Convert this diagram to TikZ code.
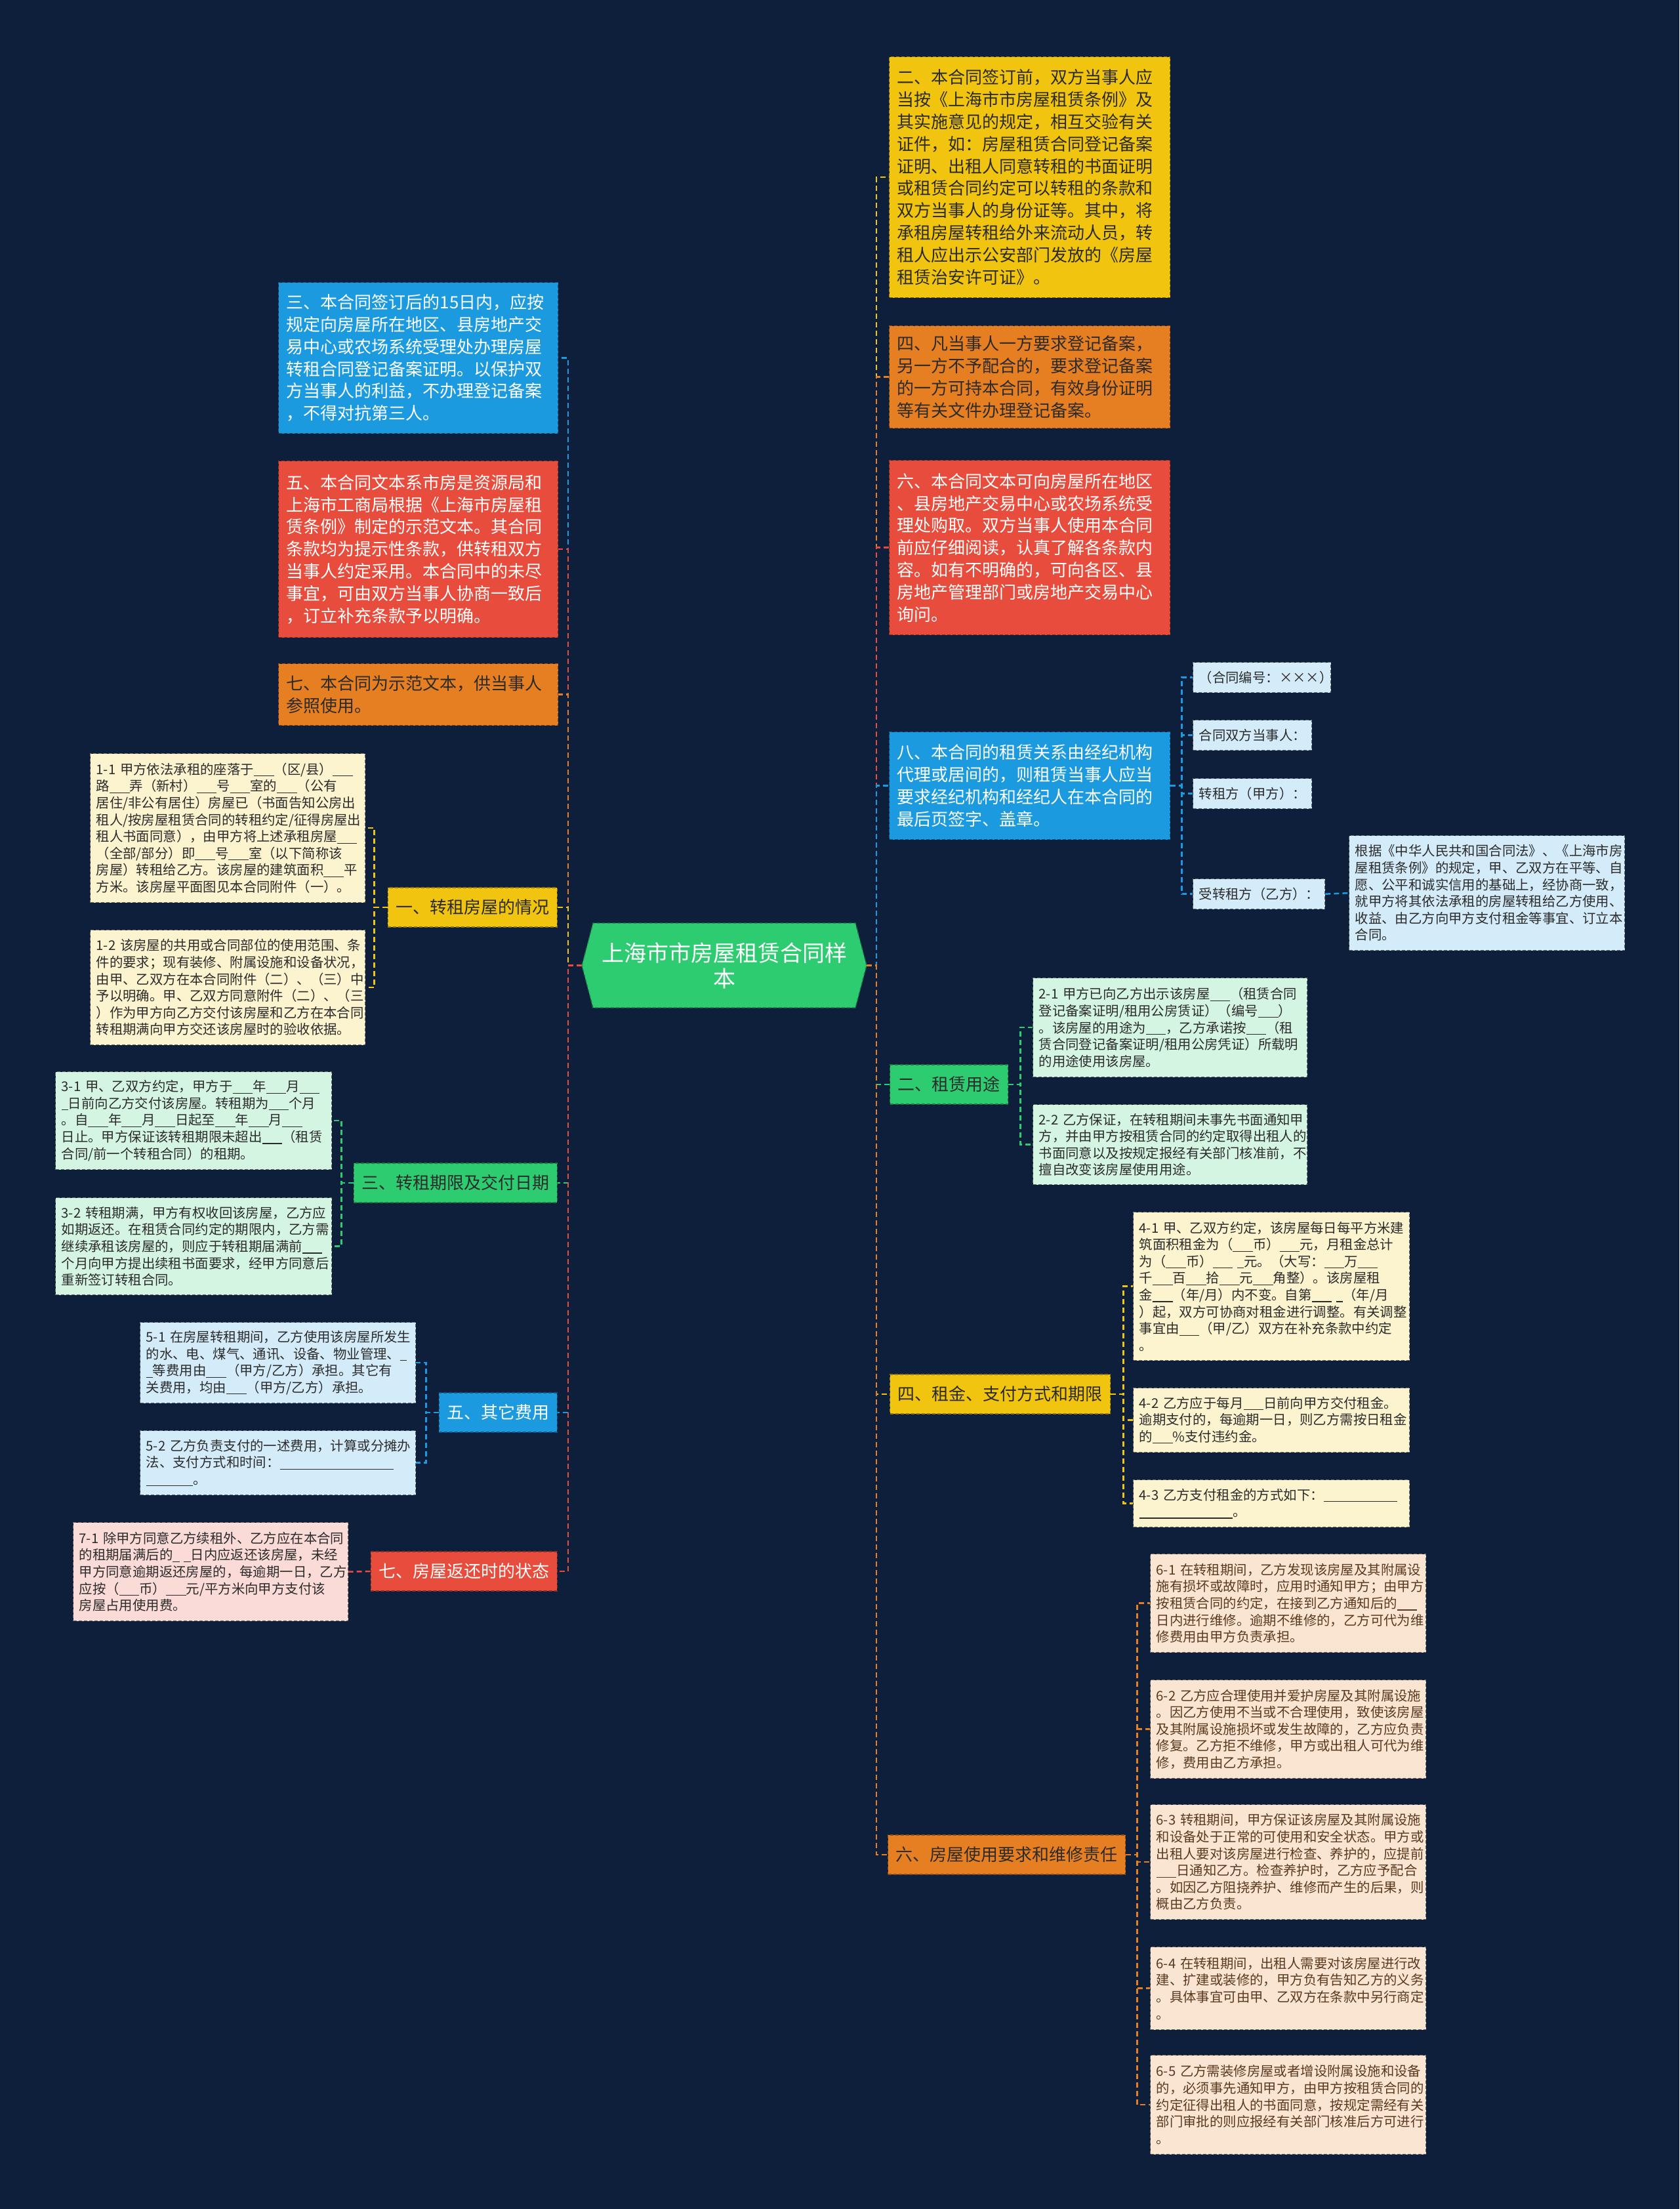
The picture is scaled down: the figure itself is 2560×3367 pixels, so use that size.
\documentclass[tikz,border=0pt]{standalone}
\usepackage{fontspec}
\setmainfont{Noto Sans CJK SC}
\definecolor{bg}{HTML}{0D1F3B}
\definecolor{cblue}{HTML}{1B9AE0}
\definecolor{cred}{HTML}{E74C3C}
\definecolor{corange}{HTML}{E67E22}
\definecolor{cyellow}{HTML}{F1C40F}
\definecolor{cgreen}{HTML}{2ECC71}
\definecolor{lcream}{HTML}{FCF3CF}
\definecolor{lgreen}{HTML}{D5F5E3}
\definecolor{lblue}{HTML}{D4ECF9}
\definecolor{lpink}{HTML}{FADBD8}
\definecolor{lpeach}{HTML}{FAE5D3}
\definecolor{tdark}{HTML}{2B2B2B}
\definecolor{tbrown}{HTML}{5A3A1E}
\newcommand{\blnk}{\rule[-0.15em]{1.5em}{0.06em}}
\newcommand{\sblnk}{\rule[-0.15em]{0.5em}{0.06em}}
\newcommand{\fbig}{\fontsize{26}{33.8}\selectfont}
\newcommand{\fsml}{\fontsize{20.4}{25.6}\selectfont}
\newcommand{\fctr}{\fontsize{34}{39}\selectfont}
\begin{document}
\begin{tikzpicture}[x=1pt,y=-1pt,
  bx/.style={anchor=north west, dash pattern=on 5pt off 3pt, line width=1.3pt, align=left, inner ysep=0pt},
  bigbox/.style={bx, font=\fbig, inner xsep=12pt},
  smbox/.style={bx, font=\fsml, inner xsep=9pt},
  lbl/.style={dash pattern=on 5pt off 3pt, line width=1.3pt, font=\fbig, inner xsep=12pt, inner ysep=0pt, minimum height=60pt},
  conn/.style={dash pattern=on 8pt off 5pt, line width=2.5pt},
  fB/.style={fill=cblue, draw=cblue!60!black},
  fR/.style={fill=cred, draw=cred!60!black},
  fO/.style={fill=corange, draw=corange!60!black},
  fY/.style={fill=cyellow, draw=cyellow!60!black},
  fG/.style={fill=cgreen, draw=cgreen!60!black},
  fLC/.style={fill=lcream, draw=lcream!45!black, text=tdark},
  fLG/.style={fill=lgreen, draw=lgreen!45!black, text=tdark},
  fLB/.style={fill=lblue, draw=lblue!45!black, text=tdark},
  fLP/.style={fill=lpink, draw=lpink!45!black, text=tdark},
  fLE/.style={fill=lpeach, draw=lpeach!45!black, text=tbrown}
]
\fill[bg] (0,0) rectangle (2560,3367);
\useasboundingbox (0,0) rectangle (2560,3367);

% centre
\fill[cgreen] (887,1471.5) -- (904,1407) -- (1304,1407) -- (1321,1471.5) -- (1304,1536) -- (904,1536) -- cycle;
\draw[cgreen!60!black, dash pattern=on 5pt off 3pt, line width=1.3pt] (887,1471.5) -- (904,1407) -- (1304,1407) -- (1321,1471.5) -- (1304,1536) -- (904,1536) -- cycle;
\node[font=\fctr, text=white, align=center, minimum width=434pt, minimum height=129pt, inner sep=0pt] (c) at (1104,1471.5) {上海市市房屋租赁合同样\\本};

% ---------- left big boxes
\node[bigbox, fB, text=white, text width=402pt, minimum height=230pt] (n3) at (424,430) {三、本合同签订后的15日内，应按\\规定向房屋所在地区、县房地产交\\易中心或农场系统受理处办理房屋\\转租合同登记备案证明。以保护双\\方当事人的利益，不办理登记备案\\，不得对抗第三人。};
\node[bigbox, fR, text=white, text width=402pt, minimum height=269pt] (n5) at (424,702) {五、本合同文本系市房是资源局和\\上海市工商局根据《上海市房屋租\\赁条例》制定的示范文本。其合同\\条款均为提示性条款，供转租双方\\当事人约定采用。本合同中的未尽\\事宜，可由双方当事人协商一致后\\，订立补充条款予以明确。};
\node[bigbox, fO, text=tdark, text width=402pt, minimum height=94pt] (n7) at (424,1011) {七、本合同为示范文本，供当事人\\参照使用。};

% ---------- left labels
\node[lbl, fY, text=tdark, anchor=east] (l1) at (850,1383) {一、转租房屋的情况};
\node[lbl, fG, text=tdark, anchor=east] (l3) at (850,1803) {三、转租期限及交付日期};
\node[lbl, fB, text=white, anchor=east] (l5) at (850,2153) {五、其它费用};
\node[lbl, fR, text=white, anchor=east] (l7) at (850,2395) {七、房屋返还时的状态};

% ---------- left small boxes
\node[smbox, fLC, text width=401pt, minimum height=227pt] (a11) at (137,1148) {1-1 甲方依法承租的座落于\blnk{}（区/县）\blnk{}\\路\blnk{}弄（新村）\blnk{}号\blnk{}室的\blnk{}（公有\\居住/非公有居住）房屋已（书面告知公房出\\租人/按房屋租赁合同的转租约定/征得房屋出\\租人书面同意），由甲方将上述承租房屋\blnk{}\\（全部/部分）即\blnk{}号\blnk{}室（以下简称该\\房屋）转租给乙方。该房屋的建筑面积\blnk{}平\\方米。该房屋平面图见本合同附件（一）。};
\node[smbox, fLC, text width=401pt, minimum height=175pt] (a12) at (137,1417) {1-2 该房屋的共用或合同部位的使用范围、条\\件的要求；现有装修、附属设施和设备状况，\\由甲、乙双方在本合同附件（二）、（三）中\\予以明确。甲、乙双方同意附件（二）、（三\\）作为甲方向乙方交付该房屋和乙方在本合同\\转租期满向甲方交还该房屋时的验收依据。};
\node[smbox, fLG, text width=403pt, minimum height=149pt] (a31) at (84,1633) {3-1 甲、乙双方约定，甲方于\blnk{}年\blnk{}月\blnk{}\\\sblnk{}日前向乙方交付该房屋。转租期为\blnk{}个月\\。自\blnk{}年\blnk{}月\blnk{}日起至\blnk{}年\blnk{}月\blnk{}\\日止。甲方保证该转租期限未超出\blnk{}（租赁\\合同/前一个转租合同）的租期。};
\node[smbox, fLG, text width=403pt, minimum height=148pt] (a32) at (84,1825) {3-2 转租期满，甲方有权收回该房屋，乙方应\\如期返还。在租赁合同约定的期限内，乙方需\\继续承租该房屋的，则应于转租期届满前\blnk{}\\个月向甲方提出续租书面要求，经甲方同意后\\重新签订转租合同。};
\node[smbox, fLB, text width=402pt, minimum height=123pt] (a51) at (213,2015) {5-1 在房屋转租期间，乙方使用该房屋所发生\\的水、电、煤气、通讯、设备、物业管理、\sblnk{}\\\sblnk{}等费用由\blnk{}（甲方/乙方）承担。其它有\\关费用，均由\blnk{}（甲方/乙方）承担。};
\node[smbox, fLB, text width=402pt, minimum height=98pt] (a52) at (213,2180) {5-2 乙方负责支付的一述费用，计算或分摊办\\法、支付方式和时间：\rule[-0.15em]{8.5em}{0.06em}\\\rule[-0.15em]{3.5em}{0.06em}。};
\node[smbox, fLP, text width=401pt, minimum height=150pt] (a71) at (111,2320) {7-1 除甲方同意乙方续租外、乙方应在本合同\\的租期届满后的\sblnk{} \sblnk{}日内应返还该房屋，未经\\甲方同意逾期返还房屋的，每逾期一日，乙方\\应按（\blnk{}币）\blnk{}元/平方米向甲方支付该\\房屋占用使用费。};

% ---------- right big boxes
\node[bigbox, fY, text=tdark, text width=404pt, minimum height=367pt] (m2) at (1355,86) {二、本合同签订前，双方当事人应\\当按《上海市市房屋租赁条例》及\\其实施意见的规定，相互交验有关\\证件，如：房屋租赁合同登记备案\\证明、出租人同意转租的书面证明\\或租赁合同约定可以转租的条款和\\双方当事人的身份证等。其中，将\\承租房屋转租给外来流动人员，转\\租人应出示公安部门发放的《房屋\\租赁治安许可证》。};
\node[bigbox, fO, text=tdark, text width=404pt, minimum height=156pt] (m4) at (1355,496) {四、凡当事人一方要求登记备案，\\另一方不予配合的，要求登记备案\\的一方可持本合同，有效身份证明\\等有关文件办理登记备案。};
\node[bigbox, fR, text=white, text width=404pt, minimum height=266pt] (m6) at (1355,701) {六、本合同文本可向房屋所在地区\\、县房地产交易中心或农场系统受\\理处购取。双方当事人使用本合同\\前应仔细阅读，认真了解各条款内\\容。如有不明确的，可向各区、县\\房地产管理部门或房地产交易中心\\询问。};
\node[bigbox, fB, text=white, text width=404pt, minimum height=164pt] (m8) at (1355,1115) {八、本合同的租赁关系由经纪机构\\代理或居间的，则租赁当事人应当\\要求经纪机构和经纪人在本合同的\\最后页签字、盖章。};

% ---------- right small nodes of 8
\node[smbox, fLB, text width=192pt, minimum height=46pt] (b1) at (1818,1009) {（合同编号：×××）};
\node[smbox, fLB, text width=163pt, minimum height=46pt] (b2) at (1818,1097) {合同双方当事人：};
\node[smbox, fLB, text width=163pt, minimum height=46pt] (b3) at (1818,1186) {转租方（甲方）：};
\node[smbox, fLB, text width=183pt, minimum height=46pt] (b4) at (1818,1339) {受转租方（乙方）：};
\node[smbox, fLB, text width=402pt, minimum height=175pt] (b5) at (2056,1273) {根据《中华人民共和国合同法》、《上海市房\\屋租赁条例》的规定，甲、乙双方在平等、自\\愿、公平和诚实信用的基础上，经协商一致，\\就甲方将其依法承租的房屋转租给乙方使用、\\收益、由乙方向甲方支付租金等事宜、订立本\\合同。};

% ---------- right labels
\node[lbl, fG, text=tdark, anchor=west] (r2) at (1356,1653) {二、租赁用途};
\node[lbl, fY, text=tdark, anchor=west] (r4) at (1356,2125) {四、租金、支付方式和期限};
\node[lbl, fO, text=tdark, anchor=west] (r6) at (1353,2827) {六、房屋使用要求和维修责任};

% ---------- right small boxes
\node[smbox, fLG, text width=400pt, minimum height=151pt] (c21) at (1574,1490) {2-1 甲方已向乙方出示该房屋\blnk{}（租赁合同\\登记备案证明/租用公房赁证）（编号\blnk{}）\\。该房屋的用途为\blnk{}，乙方承诺按\blnk{}（租\\赁合同登记备案证明/租用公房凭证）所载明\\的用途使用该房屋。};
\node[smbox, fLG, text width=400pt, minimum height=122pt] (c22) at (1574,1683) {2-2 乙方保证，在转租期间未事先书面通知甲\\方，并由甲方按租赁合同的约定取得出租人的\\书面同意以及按规定报经有关部门核准前，不\\擅自改变该房屋使用用途。};
\node[smbox, fLC, text width=403pt, minimum height=226pt] (c41) at (1727,1847) {4-1 甲、乙双方约定，该房屋每日每平方米建\\筑面积租金为（\blnk{}币）\blnk{}元，月租金总计\\为（\blnk{}币）\blnk{} \sblnk{}元。（大写：\blnk{}万\blnk{}\\千\blnk{}百\blnk{}拾\blnk{}元\blnk{}角整）。该房屋租\\金\blnk{}（年/月）内不变。自第\blnk{} \sblnk{}（年/月\\）起，双方可协商对租金进行调整。有关调整\\事宜由\blnk{}（甲/乙）双方在补充条款中约定\\。};
\node[smbox, fLC, text width=403pt, minimum height=98pt] (c42) at (1727,2115) {4-2 乙方应于每月\blnk{}日前向甲方交付租金。\\逾期支付的，每逾期一日，则乙方需按日租金\\的\blnk{}\%支付违约金。};
\node[smbox, fLC, text width=403pt, minimum height=72pt] (c43) at (1727,2255) {4-3 乙方支付租金的方式如下：\rule[-0.15em]{5.5em}{0.06em}\\\rule[-0.15em]{7em}{0.06em}。};
\node[smbox, fLE, text width=402pt, minimum height=150pt] (c61) at (1753,2368) {6-1 在转租期间，乙方发现该房屋及其附属设\\施有损坏或故障时，应用时通知甲方；由甲方\\按租赁合同的约定，在接到乙方通知后的\blnk{}\\日内进行维修。逾期不维修的，乙方可代为维\\修费用由甲方负责承担。};
\node[smbox, fLE, text width=402pt, minimum height=150pt] (c62) at (1753,2560) {6-2 乙方应合理使用并爱护房屋及其附属设施\\。因乙方使用不当或不合理使用，致使该房屋\\及其附属设施损坏或发生故障的，乙方应负责\\修复。乙方拒不维修，甲方或出租人可代为维\\修，费用由乙方承担。};
\node[smbox, fLE, text width=402pt, minimum height=175pt] (c63) at (1753,2750) {6-3 转租期间，甲方保证该房屋及其附属设施\\和设备处于正常的可使用和安全状态。甲方或\\出租人要对该房屋进行检查、养护的，应提前\\\blnk{}日通知乙方。检查养护时，乙方应予配合\\。如因乙方阻挠养护、维修而产生的后果，则\\概由乙方负责。};
\node[smbox, fLE, text width=402pt, minimum height=126pt] (c64) at (1753,2967) {6-4 在转租期间，出租人需要对该房屋进行改\\建、扩建或装修的，甲方负有告知乙方的义务\\。具体事宜可由甲、乙双方在条款中另行商定\\。};
\node[smbox, fLE, text width=402pt, minimum height=151pt] (c65) at (1753,3132) {6-5 乙方需装修房屋或者增设附属设施和设备\\的，必须事先通知甲方，由甲方按租赁合同的\\约定征得出租人的书面同意，按规定需经有关\\部门审批的则应报经有关部门核准后方可进行\\。};

% ---------- connectors: centre to left
\draw[conn, cblue] (c.west) -- ++(-21,0) |- (n3.east);
\draw[conn, cred] (c.west) -- ++(-21,0) |- (n5.east);
\draw[conn, corange] (c.west) -- ++(-21,0) |- (n7.east);
\draw[conn, cyellow] (c.west) -- ++(-21,0) |- (l1.east);
\draw[conn, cgreen] (c.west) -- ++(-21,0) |- (l3.east);
\draw[conn, cblue] (c.west) -- ++(-21,0) |- (l5.east);
\draw[conn, cred] (c.west) -- ++(-21,0) |- (l7.east);
% centre to right
\draw[conn, cyellow] (c.east) -- ++(15,0) |- (m2.west);
\draw[conn, corange] (c.east) -- ++(15,0) |- (m4.west);
\draw[conn, cred] (c.east) -- ++(15,0) |- (m6.west);
\draw[conn, cblue] (c.east) -- ++(15,0) |- (m8.west);
\draw[conn, cgreen] (c.east) -- ++(15,0) |- (r2.west);
\draw[conn, cyellow] (c.east) -- ++(15,0) |- (r4.west);
\draw[conn, corange] (c.east) -- ++(15,0) |- (r6.west);

% sub connectors left
\draw[conn, cyellow] (l1.west) -- ++(-20,0) |- (a11.east);
\draw[conn, cyellow] (l1.west) -- ++(-20,0) |- (a12.east);
\draw[conn, cgreen] (l3.west) -- ++(-18,0) |- (a31.east);
\draw[conn, cgreen] (l3.west) -- ++(-18,0) |- (a32.east);
\draw[conn, cblue] (l5.west) -- ++(-19,0) |- (a51.east);
\draw[conn, cblue] (l5.west) -- ++(-19,0) |- (a52.east);
\draw[conn, cred] (l7.west) -- (a71.east);

% sub connectors right
\draw[conn, cblue] (m8.east) -- ++(17,0) |- (b1.west);
\draw[conn, cblue] (m8.east) -- ++(17,0) |- (b2.west);
\draw[conn, cblue] (m8.east) -- ++(17,0) |- (b3.west);
\draw[conn, cblue] (m8.east) -- ++(17,0) |- (b4.west);
\draw[conn, cblue] (b4.east) -- (b5.west);
\draw[conn, cgreen] (r2.east) -- ++(18,0) |- (c21.west);
\draw[conn, cgreen] (r2.east) -- ++(18,0) |- (c22.west);
\draw[conn, cyellow] (r4.east) -- ++(19,0) |- (c41.west);
\draw[conn, cyellow] (r4.east) -- ++(19,0) |- (c42.west);
\draw[conn, cyellow] (r4.east) -- ++(19,0) |- (c43.west);
\draw[conn, corange] (r6.east) -- ++(17,0) |- (c61.west);
\draw[conn, corange] (r6.east) -- ++(17,0) |- (c62.west);
\draw[conn, corange] (r6.east) -- ++(17,0) |- (c63.west);
\draw[conn, corange] (r6.east) -- ++(17,0) |- (c64.west);
\draw[conn, corange] (r6.east) -- ++(17,0) |- (c65.west);
\end{tikzpicture}
\end{document}
